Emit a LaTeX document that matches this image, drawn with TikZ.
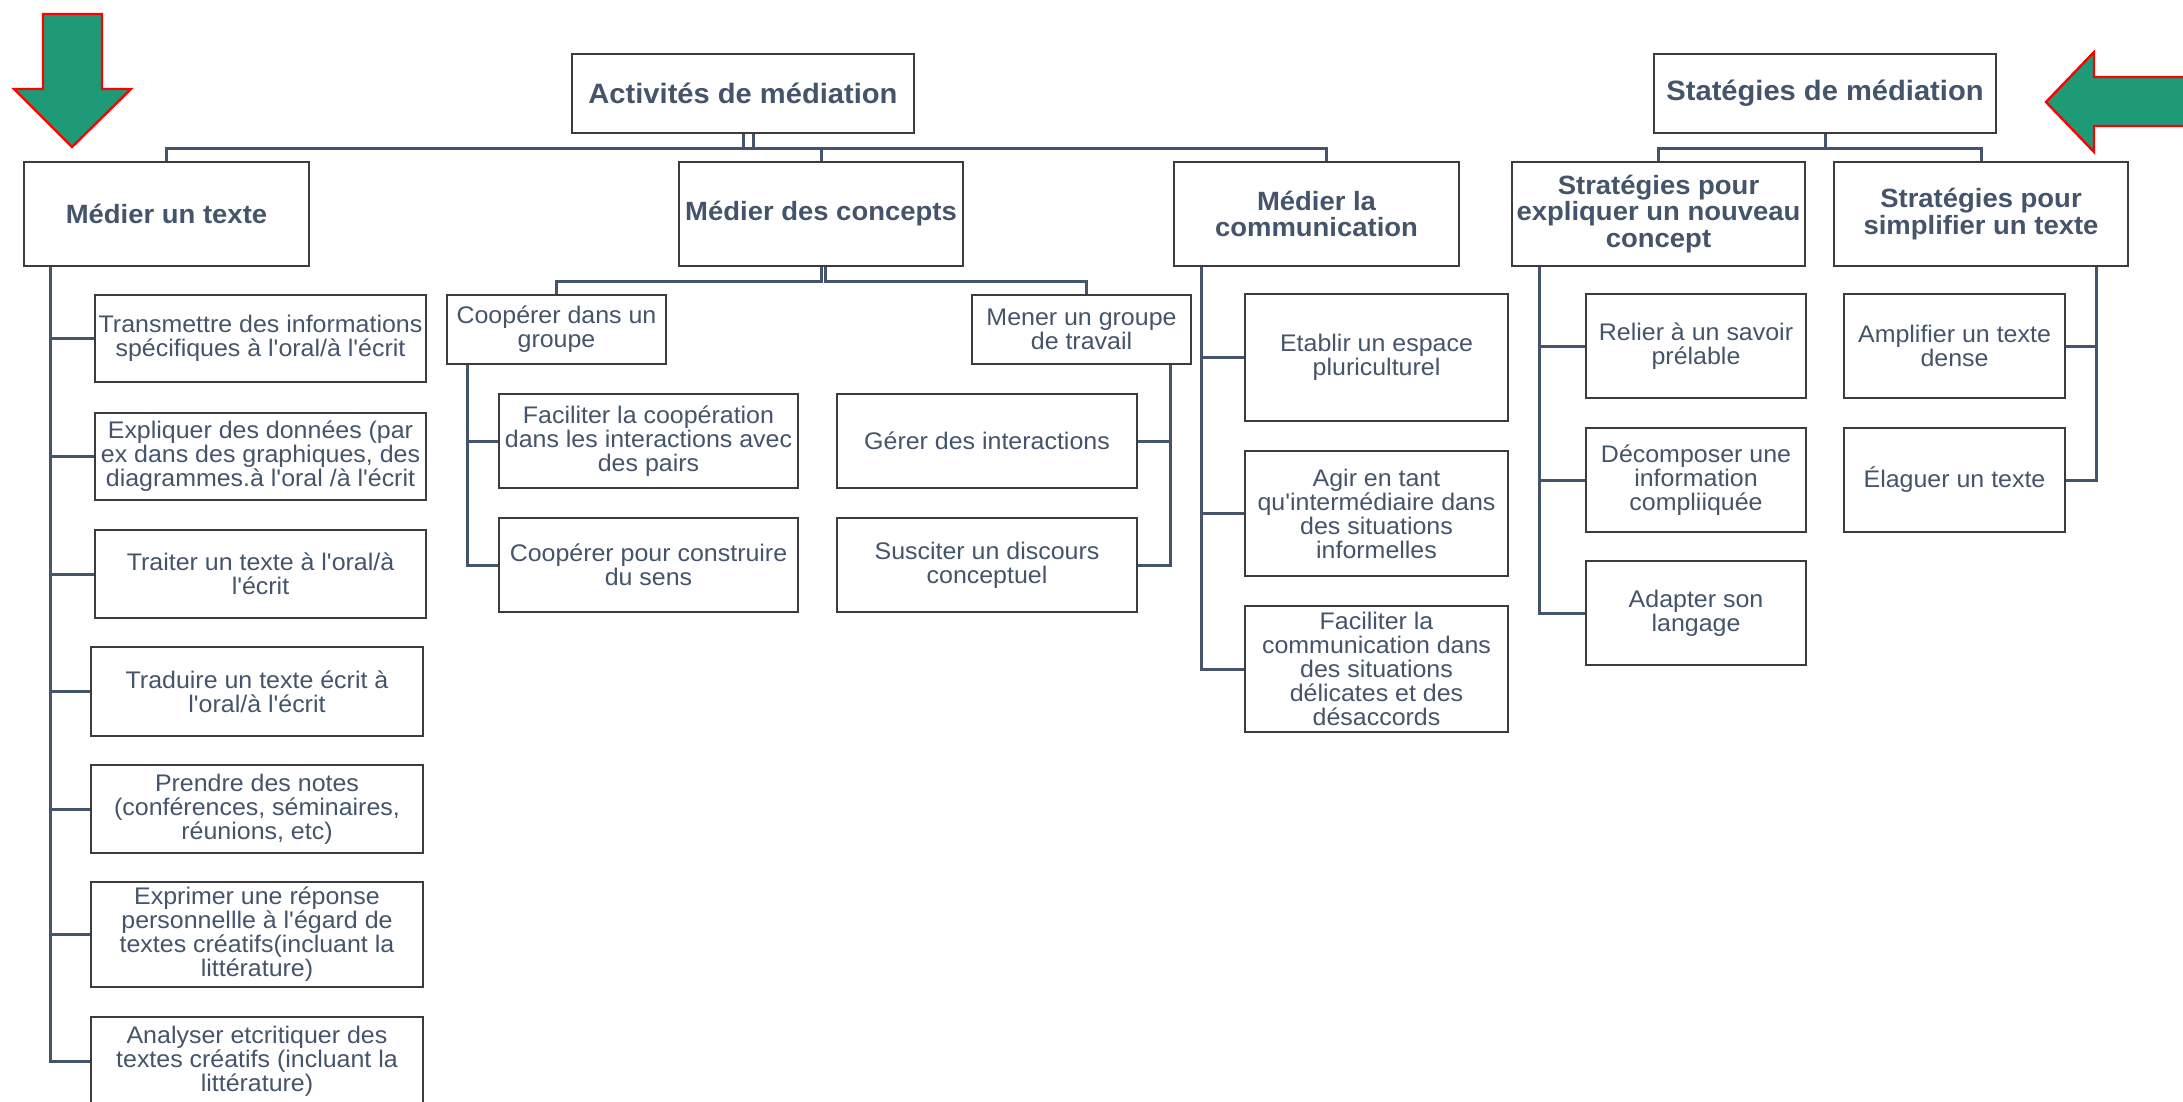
\documentclass[tikz,border=0pt]{standalone}
\usepackage{fontspec}
\newfontfamily\lsans[FakeStretch=1.04]{Liberation Sans}
\usetikzlibrary{calc}
\definecolor{txt}{HTML}{44546A}
\definecolor{bord}{HTML}{3C3C3C}
\definecolor{arrfill}{HTML}{1F9A76}
\newcommand\bx[7]{%
  \pgfmathsetmacro\bxw{(#5-#3)*0.5}%
  \pgfmathsetmacro\bxh{(#6-#4)*0.5}%
  \node[#1, minimum width=\bxw pt, minimum height=\bxh pt] (#2) at ({(#3+#5)/2},{(#4+#6)/2}) {#7};}
\begin{document}
\begin{tikzpicture}[x=0.5pt,y=-0.5pt,
  box/.style={draw=bord, line width=1.1pt, fill=white, text=txt, inner xsep=0pt, inner ysep=1pt, align=center, font=\lsans\fontsize{12}{12}\selectfont},
  hbox/.style={box, font=\lsans\bfseries\fontsize{13.2}{13.3}\selectfont},
  rbox/.style={box, font=\lsans\bfseries\fontsize{14}{15}\selectfont},
  conn/.style={draw=txt, line width=1.5pt},
  bigarrow/.style={fill=arrfill, draw=red, line width=1.2pt}]
\clip (0,0) rectangle (2183,1102);
\fill[white] (0,0) rectangle (2183,1102);

% arrows
\path[bigarrow] (43,14) -- (102,14) -- (102,89) -- (131,89) -- (72,147) -- (14,89) -- (43,89) -- cycle;
\path[bigarrow] (2046,102) -- (2094,52) -- (2094,77) -- (2200,77) -- (2200,126) -- (2094,126) -- (2094,152) -- cycle;

% roots
\bx{rbox}{act}{572}{54}{914}{133}{Activités de médiation}
\bx{rbox}{strat}{1654}{54}{1996}{133}{Statégies de médiation}

% level 2
\bx{hbox}{mt}{24}{162}{309}{266}{Médier un texte}
\bx{hbox}{mc}{679}{162}{963}{266}{Médier des concepts}
\bx{hbox}{mlc}{1174}{162}{1459}{266}{Médier la\\communication}
\bx{hbox}{exp}{1512}{162}{1805}{266}{Stratégies pour\\expliquer un nouveau\\concept}
\bx{hbox}{simp}{1834}{162}{2128}{266}{Stratégies pour\\simplifier un texte}

% Médier un texte children
\bx{box}{t1}{95}{295}{426}{382}{Transmettre des informations\\spécifiques à l'oral/à l'écrit}
\bx{box}{t2}{95}{413}{426}{500}{Expliquer des données (par\\ex dans des graphiques, des\\diagrammes.à l'oral /à l'écrit}
\bx{box}{t3}{95}{530}{426}{618}{Traiter un texte à l'oral/à\\l'écrit}
\bx{box}{t4}{91}{647}{423}{736}{Traduire un texte écrit à\\l'oral/à l'écrit}
\bx{box}{t5}{91}{765}{423}{853}{Prendre des notes\\(conférences, séminaires,\\réunions, etc)}
\bx{box}{t6}{91}{882}{423}{987}{Exprimer une réponse\\personnellle à l'égard de\\textes créatifs(incluant la\\littérature)}
\bx{box}{t7}{91}{1017}{423}{1106}{Analyser etcritiquer des\\textes créatifs (incluant la\\littérature)}

% Médier des concepts children
\bx{box}{coop}{447}{295}{666}{364}{Coopérer dans un\\groupe}
\bx{box}{mener}{972}{295}{1191}{364}{Mener un groupe\\de travail}
\bx{box}{c1}{499}{394}{798}{488}{Faciliter la coopération\\dans les interactions avec\\des pairs}
\bx{box}{c2}{499}{518}{798}{612}{Coopérer pour construire\\du sens}
\bx{box}{g1}{837}{394}{1137}{488}{Gérer des interactions}
\bx{box}{g2}{837}{518}{1137}{612}{Susciter un discours\\conceptuel}

% Médier la communication children
\bx{box}{m1}{1245}{294}{1508}{421}{Etablir un espace\\pluriculturel}
\bx{box}{m2}{1245}{451}{1508}{576}{Agir en tant\\qu'intermédiaire dans\\des situations\\informelles}
\bx{box}{m3}{1245}{606}{1508}{732}{Faciliter la\\communication dans\\des situations\\délicates et des\\désaccords}

% Stratégies children
\bx{box}{e1}{1586}{294}{1806}{398}{Relier à un savoir\\prélable}
\bx{box}{e2}{1586}{428}{1806}{532}{Décomposer une\\information\\compliiquée}
\bx{box}{e3}{1586}{561}{1806}{665}{Adapter son\\langage}
\bx{box}{s1}{1844}{294}{2065}{398}{Amplifier un texte\\dense}
\bx{box}{s2}{1844}{428}{2065}{532}{Élaguer un texte}

% connectors from roots
\draw[conn] (act.south) -- ++(0,14) -| (mc.north);
\draw[conn] (act.south) -- ++(0,14) -| ([xshift=5pt]mlc.north);
\draw[conn] ([xshift=5pt]act.south) -- ++(0,14) -| (mt.north);
\draw[conn] (mc.south) -- ++(0,14) -| (coop.north);
\draw[conn] ([xshift=2pt]mc.south) -- ++(0,14) -| ([xshift=2.5pt]mener.north);
\draw[conn] (strat.south) -- ++(0,14) -| (exp.north);
\draw[conn] (strat.south) -- ++(0,14) -| (simp.north);

% spines
\coordinate (mtS) at ($(mt.south west)+(28,0)$);
\foreach \c in {t1,t2,t3,t4,t5,t6,t7} \draw[conn] (mtS) |- (\c.west);
\coordinate (coopS) at ($(coop.south west)+(22,0)$);
\foreach \c in {c1,c2} \draw[conn] (coopS) |- (\c.west);
\coordinate (menerS) at ($(mener.south east)+(-22,0)$);
\foreach \c in {g1,g2} \draw[conn] (menerS) |- (\c.east);
\coordinate (mlcS) at ($(mlc.south west)+(29,0)$);
\foreach \c in {m1,m2,m3} \draw[conn] (mlcS) |- (\c.west);
\coordinate (expS) at ($(exp.south west)+(29,0)$);
\foreach \c in {e1,e2,e3} \draw[conn] (expS) |- (\c.west);
\coordinate (simpS) at ($(simp.south east)+(-33,0)$);
\foreach \c in {s1,s2} \draw[conn] (simpS) |- (\c.east);
\end{tikzpicture}
\end{document}
